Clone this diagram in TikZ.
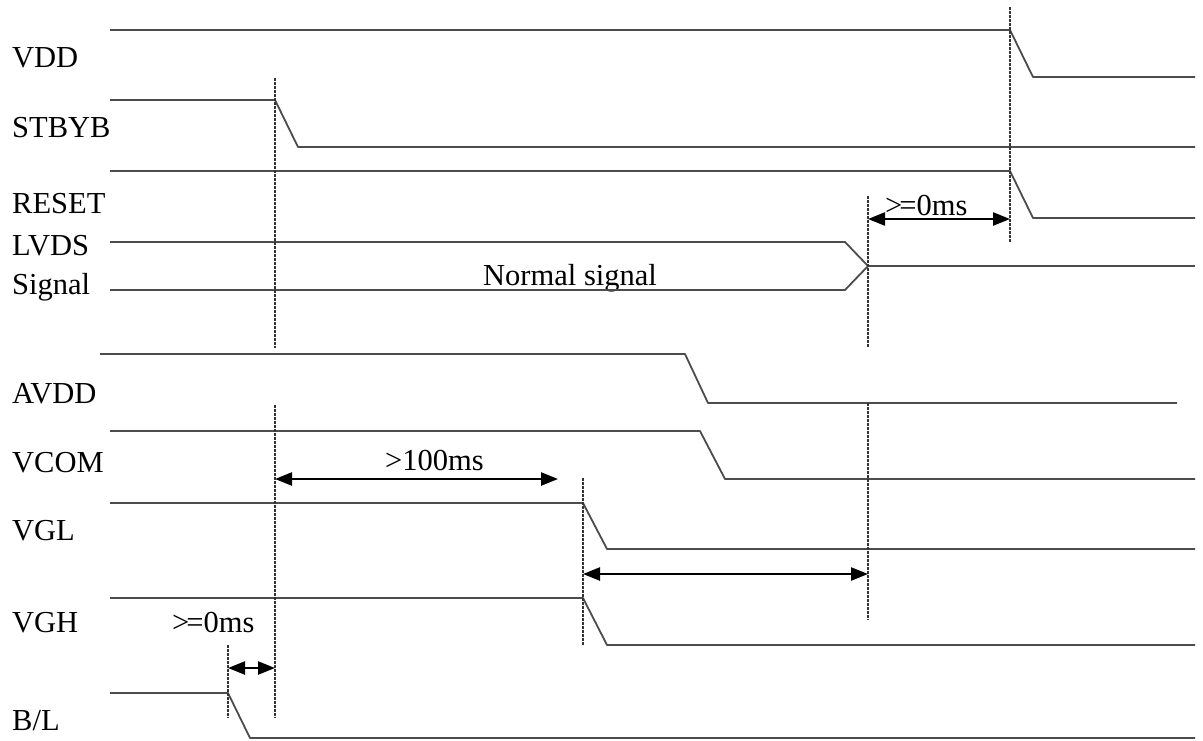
\documentclass[tikz,border=0pt]{standalone}
\usepackage{fontspec}
\setmainfont{Liberation Serif}
\usetikzlibrary{arrows.meta}

\tikzset{
  sig/.style={line width=1.8pt,black!70},
  guide/.style={line width=1.1pt,black!80,dash pattern=on 2.5pt off 1.5pt},
  span/.style={line width=2.4pt,{Triangle[length=17pt,width=13pt]}-{Triangle[length=17pt,width=13pt]}},
  lbl/.style={anchor=base west,inner sep=0pt,font=\fontsize{30.5}{36}\selectfont}
}

\begin{document}
\begin{tikzpicture}[x=1pt,y=-1pt,line join=bevel]
\useasboundingbox (0,0) rectangle (1203,740);

\node[lbl] (vdd) at (12,67) {VDD};
\node[lbl] (stbyb) at (12,137) {STBYB};
\node[lbl] (reset) at (12,213) {RESET};
\node[lbl] (lvds) at (12,255) {LVDS};
\node[lbl] (lvds2) at (12,294) {Signal};
\node[lbl] (avdd) at (12,403) {AVDD};
\node[lbl] (vcom) at (12,472) {VCOM};
\node[lbl] (vgl) at (12,540) {VGL};
\node[lbl] (vgh) at (12,632) {VGH};
\node[lbl] (bl) at (12,730) {B/L};
\node[lbl] (normal) at (483,285) {Normal signal};

\draw[sig] (110,30) -- (1010,30) -- (1033,77) -- (1195,77);
\draw[sig] (110,100) -- (275,100) -- (298,147) -- (1195,147);
\draw[sig] (110,171) -- (1010,171) -- (1033,218) -- (1195,218);
\draw[sig] (110,242) -- (845,242) -- (868,266) -- (845,290) -- (110,290);
\draw[sig] (868,266) -- (1195,266);
\draw[sig] (100,354) -- (685,354) -- (708,403) -- (1177,403);
\draw[sig] (110,431) -- (700,431) -- (725,479) -- (1195,479);
\draw[sig] (110,503) -- (583,503) -- (607,549) -- (1195,549);
\draw[sig] (110,598) -- (583,598) -- (607,645) -- (1195,645);
\draw[sig] (110,693) -- (228,693) -- (250,738) -- (1195,738);

\draw[guide] (1010,7) -- (1010,242);
\draw[guide] (275,78) -- (275,348);
\draw[guide] (275,405) -- (275,718);
\draw[guide] (868,196) -- (868,348);
\draw[guide] (868,403) -- (868,620);
\draw[guide] (583,478) -- (583,645);
\draw[guide] (228,645) -- (228,718);

\coordinate (A1) at (868,219);
\coordinate (A2) at (1010,219);
\coordinate (B1) at (275,479);
\coordinate (B2) at (558,479);
\coordinate (C1) at (583,574);
\coordinate (C2) at (868,574);
\coordinate (D1) at (228,668);
\coordinate (D2) at (275,668);

\draw[span] (A1) -- (A2);
\draw[span] (B1) -- (B2);
\draw[span] (C1) -- (C2);
\draw[span] (D1) -- (D2);

\node[lbl] (t1) at (885,215) {>\kern-3pt=0ms};
\node[lbl] (t2) at (385,470) {>100ms};
\node[lbl] (t3) at (172,632) {>\kern-3pt=0ms};
\end{tikzpicture}
\end{document}
